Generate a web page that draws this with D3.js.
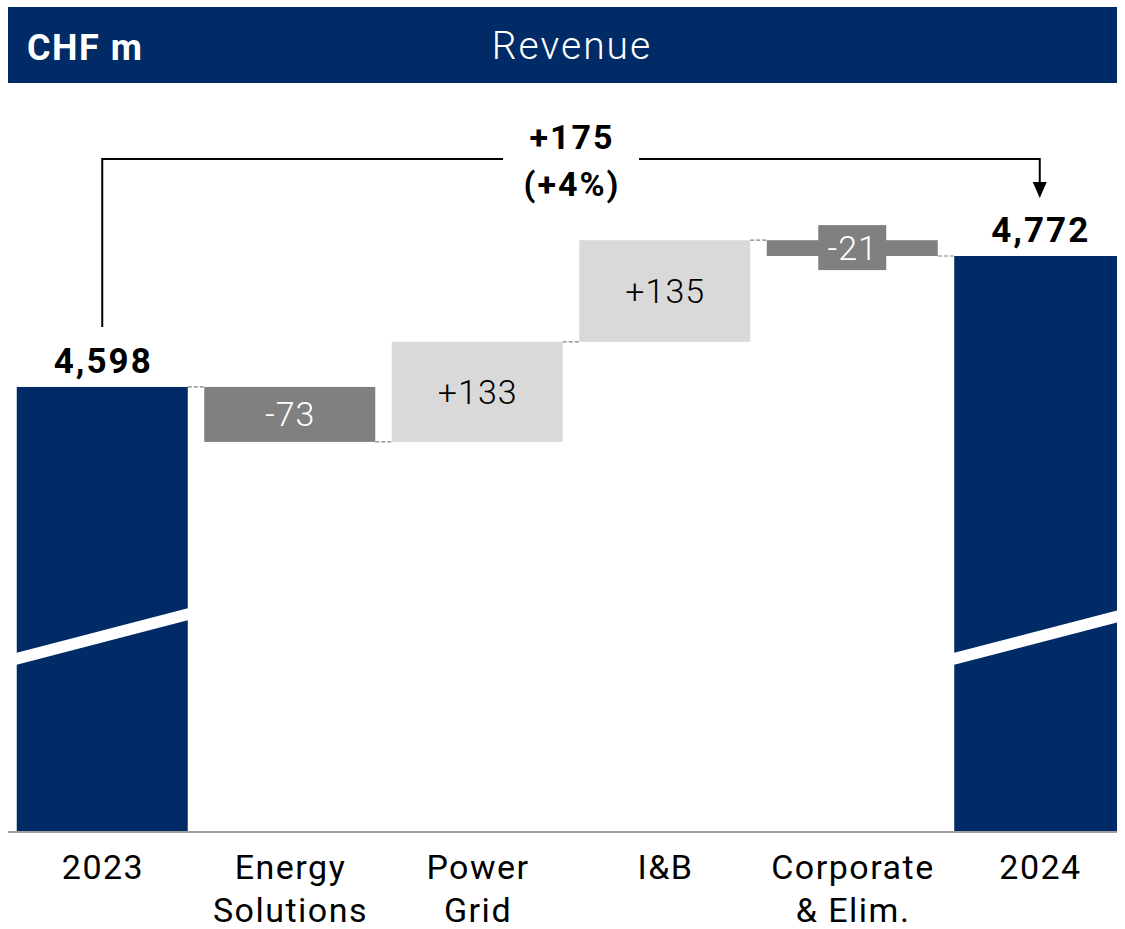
<!DOCTYPE html>
<html>
<head>
<meta charset="utf-8">
<script src="https://cdn.jsdelivr.net/npm/d3@7"></script>
<style>
  body { margin: 0; background: #fff; }
  svg { display: block; font-family: Roboto, "Noto Sans", sans-serif; }
</style>
</head>
<body>
<svg id="chart" width="1125" height="929"></svg>
<script>
// waterfall data, CHF m
var categories = ["2023", "Energy\nSolutions", "Power\nGrid", "I&B", "Corporate\n& Elim.", "2024"];
var deltas = [4598, -73, 133, 135, -21, 4772];
var kinds = ["total", "neg", "pos", "pos", "neg", "total"];
var labels = ["4,598", "-73", "+133", "+135", "-21", "4,772"];
var changeLabel = ["+175", "(+4%)"];

var navy = "#002b66", darkGray = "#808080", lightGray = "#d9d9d9";

var svg = d3.select("#chart");

// header band
svg.append("rect").attr("x", 8).attr("y", 7).attr("width", 1109).attr("height", 76).attr("fill", navy);
svg.append("text").attr("x", 27).attr("y", 60).attr("fill", "#fff")
  .attr("font-size", 36).attr("font-weight", 700).attr("letter-spacing", 1.5).text("CHF m");
svg.append("text").attr("x", 572).attr("y", 59).attr("fill", "#fff")
  .attr("font-size", 39).attr("font-weight", 300).attr("letter-spacing", 2)
  .attr("text-anchor", "middle").text("Revenue");

var x = d3.scaleBand().domain(categories).range([8.5, 1133.5]).paddingInner(0.088).paddingOuter(0.044);
// axis is broken, so the baseline is not zero
var y = d3.scaleLinear().domain([4008, 4772]).range([831, 256]);

// build the floating segments
var running = 0;
var bars = categories.map(function(c, i) {
  var lo, hi;
  if (kinds[i] === "total") {
    lo = y.domain()[0]; hi = deltas[i]; running = deltas[i];
  } else {
    var start = running;
    running = running + deltas[i];
    lo = Math.min(start, running); hi = Math.max(start, running);
  }
  return { cat: c, kind: kinds[i], lo: lo, hi: hi, end: running, label: labels[i], i: i };
});

svg.append("clipPath").attr("id", "plot").append("rect")
  .attr("x", 0).attr("y", 0).attr("width", 1117).attr("height", 929);

var g = svg.append("g").attr("clip-path", "url(#plot)");

var fill = { total: navy, neg: darkGray, pos: lightGray };

bars.forEach(function(d) {
  var bx = x(d.cat), bw = x.bandwidth();
  g.append("rect").attr("x", bx).attr("y", y(d.hi)).attr("width", bw)
    .attr("height", y(d.lo) - y(d.hi)).attr("fill", fill[d.kind]);
  if (d.kind === "total") {
    // axis break stripe
    var yl = 659, yr = 614;
    g.append("polygon")
      .attr("points", [[bx - 1, yl - 6], [bx + bw + 1, yr - 6], [bx + bw + 1, yr + 6], [bx - 1, yl + 6]].join(" "))
      .attr("fill", "#fff");
  }
});

// dashed connectors between bars
for (var i = 0; i < bars.length - 1; i++) {
  var lvl = bars[i].end;
  g.append("line")
    .attr("x1", x(bars[i].cat) + x.bandwidth()).attr("x2", x(bars[i + 1].cat))
    .attr("y1", y(lvl)).attr("y2", y(lvl))
    .attr("stroke", darkGray).attr("stroke-width", 1.2).attr("stroke-dasharray", "4,2");
}

// baseline
svg.append("line").attr("x1", 8).attr("x2", 1117).attr("y1", 832).attr("y2", 832)
  .attr("stroke", "#a0a0a0").attr("stroke-width", 2);

// value labels
bars.forEach(function(d) {
  var cx = x(d.cat) + x.bandwidth() / 2;
  if (d.kind === "total") {
    svg.append("text").attr("x", cx + 1).attr("y", y(d.hi) - 14)
      .attr("text-anchor", "middle").attr("font-size", 35).attr("font-weight", 700)
      .attr("letter-spacing", 2).attr("fill", "#000").text(d.label);
  } else {
    var my = (y(d.lo) + y(d.hi)) / 2;
    if (y(d.lo) - y(d.hi) < 40) {
      // small segment gets a label box
      svg.append("rect").attr("x", cx - 34).attr("y", my - 23).attr("width", 68).attr("height", 45)
        .attr("fill", darkGray);
    }
    svg.append("text").attr("x", cx + 0.5).attr("y", my + 12)
      .attr("text-anchor", "middle").attr("font-size", 34).attr("font-weight", 300)
      .attr("letter-spacing", 1).attr("fill", d.kind === "neg" ? "#fff" : "#000").text(d.label);
  }
});

// category labels
categories.forEach(function(c) {
  var cx = x(c) + x.bandwidth() / 2;
  var t = svg.append("text").attr("text-anchor", "middle").attr("font-size", 34)
    .attr("letter-spacing", 1.5).attr("fill", "#000");
  c.split("\n").forEach(function(line, k) {
    t.append("tspan").attr("x", cx + 0.75).attr("y", 879 + k * 43).text(line);
  });
});

// change bracket
var xa = x(categories[0]) + x.bandwidth() / 2;
var xb = x(categories[5]) + x.bandwidth() / 2;
var topY = 159;
svg.append("path")
  .attr("d", "M" + xa + "," + (y(deltas[0]) - 60) + "V" + topY + "H503")
  .attr("fill", "none").attr("stroke", "#000").attr("stroke-width", 2);
svg.append("path")
  .attr("d", "M639," + topY + "H" + xb + "V183")
  .attr("fill", "none").attr("stroke", "#000").attr("stroke-width", 2);
svg.append("path")
  .attr("d", "M" + (xb - 7) + ",182L" + (xb + 7) + ",182L" + xb + ",198Z").attr("fill", "#000");

svg.append("text").attr("x", 572).attr("y", 149).attr("text-anchor", "middle")
  .attr("font-size", 34).attr("font-weight", 700).attr("letter-spacing", 2).text(changeLabel[0]);
svg.append("text").attr("x", 572).attr("y", 196).attr("text-anchor", "middle")
  .attr("font-size", 34).attr("font-weight", 700).attr("letter-spacing", 2).text(changeLabel[1]);
</script>
</body>
</html>
